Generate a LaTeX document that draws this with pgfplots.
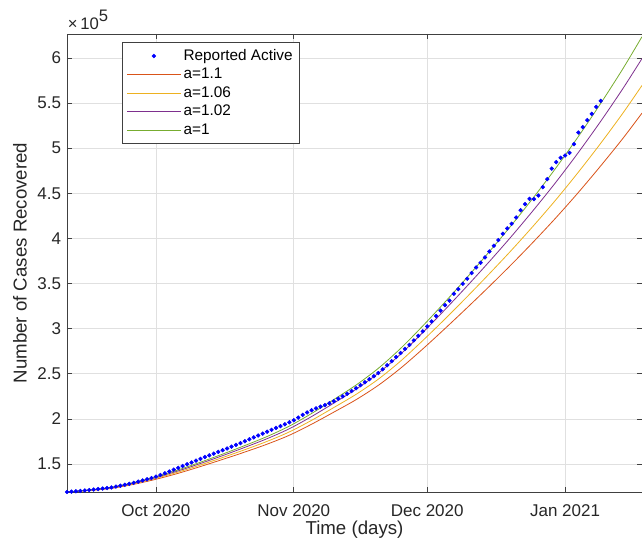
\documentclass[border=0pt]{standalone}
\usepackage{fontspec}
\setmainfont{Liberation Sans}
\usepackage{pgfplots}
\usepackage{pgfplotstable}
\pgfplotsset{compat=1.18}
\definecolor{mOrange}{rgb}{0.85,0.325,0.098}
\definecolor{mYellow}{rgb}{0.929,0.694,0.125}
\definecolor{mPurple}{rgb}{0.494,0.184,0.556}
\definecolor{mGreen}{rgb}{0.466,0.674,0.188}
\definecolor{axgray}{HTML}{404040}
\definecolor{txtgray}{HTML}{262626}
\definecolor{gridgray}{HTML}{E0E0E0}

\pgfplotstableread{
d v
-20 1.190
-19 1.194
-18 1.198
-17 1.202
-16 1.207
-15 1.212
-14 1.217
-13 1.222
-12 1.228
-11 1.234
-10 1.240
-9 1.250
-8 1.260
-7 1.270
-6 1.281
-5 1.292
-4 1.305
-3 1.318
-2 1.331
-1 1.345
0 1.360
1 1.378
2 1.397
3 1.417
4 1.437
5 1.457
6 1.477
7 1.497
8 1.517
9 1.537
10 1.557
11 1.577
12 1.596
13 1.615
14 1.634
15 1.653
16 1.672
17 1.692
18 1.712
19 1.732
20 1.753
21 1.774
22 1.795
23 1.816
24 1.837
25 1.858
26 1.879
27 1.900
28 1.920
29 1.940
30 1.962
31 1.985
32 2.015
33 2.045
34 2.072
35 2.096
36 2.117
37 2.135
38 2.153
39 2.173
40 2.196
41 2.224
42 2.250
43 2.279
44 2.309
45 2.340
46 2.374
47 2.406
48 2.440
49 2.473
50 2.508
51 2.550
52 2.595
53 2.640
54 2.685
55 2.730
56 2.775
57 2.820
58 2.870
59 2.920
60 2.970
61 3.025
62 3.080
63 3.140
64 3.200
65 3.260
66 3.310
67 3.386
68 3.438
69 3.497
70 3.553
71 3.616
72 3.678
73 3.730
74 3.789
75 3.855
76 3.918
77 3.981
78 4.051
79 4.110
80 4.162
81 4.232
82 4.313
83 4.380
84 4.439
85 4.435
86 4.475
87 4.568
88 4.657
89 4.774
90 4.845
91 4.893
92 4.918
93 4.948
94 5.044
95 5.173
96 5.233
97 5.310
98 5.380
99 5.457
100 5.524
}\reported

\pgfplotstableread{
d g p y o
-20 1.190 1.190 1.190 1.190
-15 1.213 1.211 1.209 1.207
-10 1.243 1.239 1.235 1.230
-5 1.295 1.289 1.282 1.275
0 1.360 1.352 1.342 1.331
5 1.435 1.424 1.411 1.397
10 1.520 1.506 1.489 1.472
15 1.610 1.593 1.572 1.551
20 1.705 1.685 1.659 1.633
25 1.805 1.781 1.751 1.720
30 1.920 1.891 1.856 1.819
35 2.060 2.026 1.984 1.941
40 2.215 2.175 2.126 2.075
45 2.375 2.329 2.272 2.213
50 2.560 2.506 2.440 2.372
55 2.780 2.717 2.640 2.561
60 3.030 2.957 2.868 2.775
65 3.295 3.211 3.107 3.001
70 3.570 3.474 3.355 3.233
75 3.855 3.745 3.610 3.470
80 4.150 4.026 3.872 3.714
85 4.460 4.320 4.146 3.968
90 4.785 4.627 4.432 4.232
95 5.130 4.953 4.735 4.510
100 5.495 5.297 5.053 4.803
105 5.880 5.660 5.388 5.108
109.3 6.235 5.993 5.695 5.388
}\models

\begin{document}
\begin{tikzpicture}
\begin{axis}[
  name=ax,
  scale only axis,
  width=431.25pt, height=343.5pt,
  xmin=-20, xmax=109.3,
  ymin=1.19, ymax=6.265,
  xtick={0,31,61,92},
  xticklabels={Oct 2020, Nov 2020, Dec 2020, Jan 2021},
  ytick={1.5,2,2.5,3,3.5,4,4.5,5,5.5,6},
  yticklabels={1.5,2,2.5,3,3.5,4,4.5,5,5.5,6},
  tick align=inside,
  major tick length=3.75pt,
  grid=major,
  grid style={gridgray, line width=0.5pt},
  axis line style={axgray, line width=0.5pt},
  tick style={axgray, line width=0.5pt},
  ticklabel style={font=\fontsize{12.75}{15}\selectfont, text=txtgray},
  /pgf/number format/assume math mode=true,
  xticklabel style={anchor=base, yshift=-18.75pt},
  yticklabel style={anchor=east, xshift=-1pt},
  xlabel={Time (days)},
  ylabel={Number of Cases Recovered},
  every axis x label/.style={at={(axis description cs:0.5,-0.083)}, anchor=center,
    font=\fontsize{14}{16}\selectfont, text=txtgray},
  every axis y label/.style={at={(axis description cs:-0.0817,0.5)}, anchor=center, rotate=90,
    font=\fontsize{14}{16}\selectfont, text=txtgray},
  legend cell align=left,
  legend style={at={(0.0965,0.9825)}, anchor=north west, draw=axgray, line width=0.5pt, fill=white,
    font=\fontsize{11.5}{13}\selectfont, text=black,
    nodes={inner ysep=0pt, text height=9pt, text depth=2.5pt},
    row sep=2.4pt, inner xsep=3pt, inner ysep=4.5pt},
  legend image code/.code={\draw[mark repeat=2,mark phase=2,#1] plot coordinates {(0pt,0pt) (20pt,0pt) (40pt,0pt)};},
]
\addplot[only marks, mark=*, mark size=1.4pt, color=blue] table[x=d,y=v] {\reported};
\addlegendentry{Reported Active}
\addplot[mOrange, line width=0.6pt, smooth] table[x=d,y=o] {\models};
\addlegendentry{a=1.1}
\addplot[mYellow, line width=0.6pt, smooth] table[x=d,y=y] {\models};
\addlegendentry{a=1.06}
\addplot[mPurple, line width=0.6pt, smooth] table[x=d,y=p] {\models};
\addlegendentry{a=1.02}
\addplot[mGreen, line width=0.6pt, smooth] table[x=d,y=g] {\models};
\addlegendentry{a=1}
\end{axis}
\node[anchor=base west, inner sep=0pt, text=txtgray, font=\fontsize{12.5}{14}\selectfont] at ([xshift=0.5pt,yshift=3pt]ax.north west) {×\kern2pt10\raisebox{0.5em}{5}};
\pgfresetboundingbox
\path[use as bounding box] ([xshift=-50.25pt,yshift=-39.75pt]ax.south west) rectangle ([yshift=25.5pt]ax.north east);
\end{tikzpicture}
\end{document}
